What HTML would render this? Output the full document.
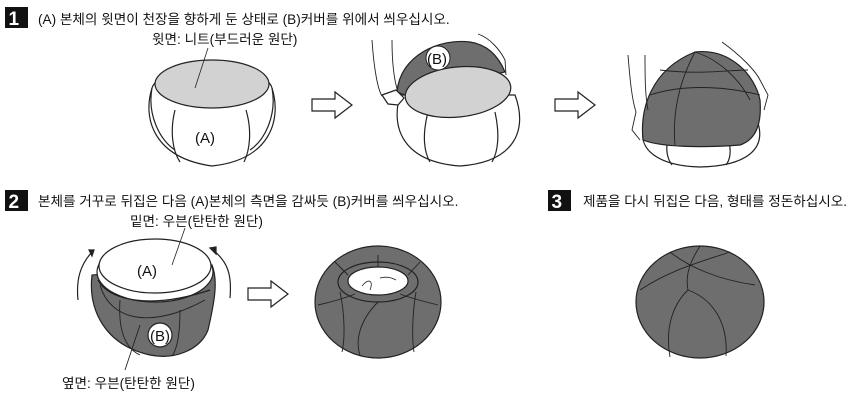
<!DOCTYPE html>
<html><head><meta charset="utf-8"><style>
html,body{margin:0;padding:0;background:#fff}
svg{display:block}
text{font-family:"Liberation Sans","Noto Sans CJK KR",sans-serif;fill:#111}
</style></head><body>
<svg width="860" height="404" viewBox="0 0 860 404" xmlns="http://www.w3.org/2000/svg">
<g stroke="#222" stroke-width="1.2" fill="none">
<rect x="5" y="7" width="23" height="21" fill="#111" stroke="none"/>
<rect x="5" y="190" width="23" height="21" fill="#111" stroke="none"/>
<rect x="548" y="190" width="23" height="21" fill="#111" stroke="none"/>

<path d="M152,88 C142,120 155,158 212,166 C270,160 282,120 272,88 C265,62 160,62 152,88 Z" fill="#fff"/>
<path d="M152,88 C147,115 160,140 175,150" />
<path d="M272,88 C277,115 265,140 250,150"/>
<path d="M175,110 C170,130 172,150 180,162 M246,110 C252,130 250,150 244,162"/>
<ellipse cx="212" cy="84" rx="57" ry="24" fill="#d2d2d2"/>
<path d="M208,48 L195,88" stroke-width="0.8"/>

<path d="M312,99 L335,99 L335,92 L352,105 L335,118 L335,111 L312,111 Z" fill="#fff"/>
<path d="M555,99 L578,99 L578,92 L595,105 L578,118 L578,111 L555,111 Z" fill="#fff"/>
<path d="M248,288 L271,288 L271,281 L288,294 L271,307 L271,300 L248,300 Z" fill="#fff"/>

<path d="M400,95 C390,130 405,162 460,166 C515,162 528,130 515,95 Z" fill="#fff"/>
<path d="M428,112 C422,135 424,152 430,162 M495,112 C500,135 498,152 492,162"/>
<path d="M372,40 C374,70 378,90 382,96 M392,40 C392,65 394,80 398,92" stroke-width="0.9"/>
<path d="M397,92 C400,55 440,38 470,42 C490,45 500,60 505,72 L405,95 Z" fill="#6e6e6e"/>
<ellipse cx="458" cy="92" rx="53" ry="25" fill="#d2d2d2" transform="rotate(-6 458 92)"/>
<path d="M382,95 L396,90 L404,98 L398,105 L388,104 Z" fill="#fff"/>
<path d="M478,34 C490,38 500,50 505,60 L506,75" stroke-width="0.9"/>

<path d="M645,125 C635,150 660,166 700,167 C745,166 768,150 757,120 Z" fill="#fff"/>
<path d="M668,140 C665,150 668,160 672,165 M728,140 C732,150 730,160 726,165"/>
<path d="M643,140 C640,110 650,70 695,52 C730,48 755,75 760,100 C762,125 755,140 740,145 C700,148 660,147 643,140 Z" fill="#6e6e6e"/>
<path d="M695,52 C680,80 672,110 675,145 M695,52 C720,60 740,80 750,100 M650,95 C680,85 720,85 760,95 M660,70 C700,75 730,70 748,70" stroke-width="0.9"/>
<path d="M628,55 C630,80 632,100 636,112 L632,130 L640,140 M645,55 C645,75 645,95 648,110" stroke-width="0.9"/>
<path d="M722,42 C740,55 755,70 760,80 L768,95 L764,110" stroke-width="0.9"/>

<path d="M92,275 C88,310 105,345 150,355 C175,360 200,350 208,330 C215,300 218,280 212,265 Z" fill="#6e6e6e"/>
<path d="M100,285 C110,320 150,330 205,300 M120,300 C118,330 125,348 140,355 M140,325 L125,370 M180,310 C180,330 178,348 172,356" stroke-width="0.9"/>
<ellipse cx="155" cy="272" rx="58" ry="30" fill="#fff"/>
<path d="M98,280 C108,300 150,310 210,290" />
<ellipse cx="155" cy="266" rx="56" ry="27" fill="#fff"/>
<circle cx="160" cy="335" r="12" fill="#fff"/>
<path d="M185,228 L172,265" stroke-width="0.8"/>
<path d="M78,300 C76,280 80,265 92,252" /><path d="M89,250 L94,250 L92,256 Z" fill="#222"/>
<path d="M230,298 C232,275 228,262 213,250"/><path d="M210,248 L216,247 L216,254 Z" fill="#222"/>

<ellipse cx="378" cy="302" rx="63" ry="56" fill="#6e6e6e"/>
<ellipse cx="378" cy="282" rx="40" ry="20" fill="#6e6e6e"/>
<ellipse cx="378" cy="281" rx="30" ry="14" fill="#fff"/>
<path d="M348,275 L335,262 M408,275 L420,262 M378,267 L378,255 M340,292 C345,315 345,340 342,352 M416,292 C412,315 412,340 414,352 M378,302 C360,320 355,340 360,355 M318,305 C340,300 350,296 355,294 M438,305 C418,300 405,296 400,294" stroke-width="0.9"/>
<path d="M362,286 C368,278 374,280 370,290 M380,278 C388,276 392,278 396,280" stroke-width="0.8"/>

<ellipse cx="700" cy="302" rx="64" ry="56" fill="#6e6e6e"/>
<path d="M700,246 C690,262 685,275 688,290 M670,252 C690,268 720,280 755,285 M640,290 C670,270 700,262 730,252 M688,290 C672,305 665,330 670,357 M688,290 C715,300 728,325 726,356" stroke-width="0.9"/>
</g>

<g font-size="13.6">
<text x="8.5" y="25" style="fill:#fff;font-weight:bold" font-size="19">1</text>
<text x="8.5" y="208" style="fill:#fff;font-weight:bold" font-size="19">2</text>
<text x="551.5" y="208" style="fill:#fff;font-weight:bold" font-size="19">3</text>
<text x="38" y="24">(A) 본체의 윗면이 천장을 향하게 둔 상태로 (B)커버를 위에서 씌우십시오.</text>
<text x="152" y="44">윗면: 니트(부드러운 원단)</text>
<text x="195" y="143" font-size="15">(A)</text>
<text x="38" y="206">본체를 거꾸로 뒤집은 다음 (A)본체의 측면을 감싸듯 (B)커버를 씌우십시오.</text>
<text x="130" y="226">밑면: 우븐(탄탄한 원단)</text>
<text x="62" y="388">옆면: 우븐(탄탄한 원단)</text>
<text x="583" y="206">제품을 다시 뒤집은 다음, 형태를 정돈하십시오.</text>
<text x="137" y="276" font-size="15">(A)</text>
<text x="150" y="341" font-size="15">(B)</text>
</g>
<circle cx="438" cy="58" r="12" fill="#fff" stroke="#222"/>
<text x="427" y="64" font-size="15">(B)</text>
</svg>
</body></html>
